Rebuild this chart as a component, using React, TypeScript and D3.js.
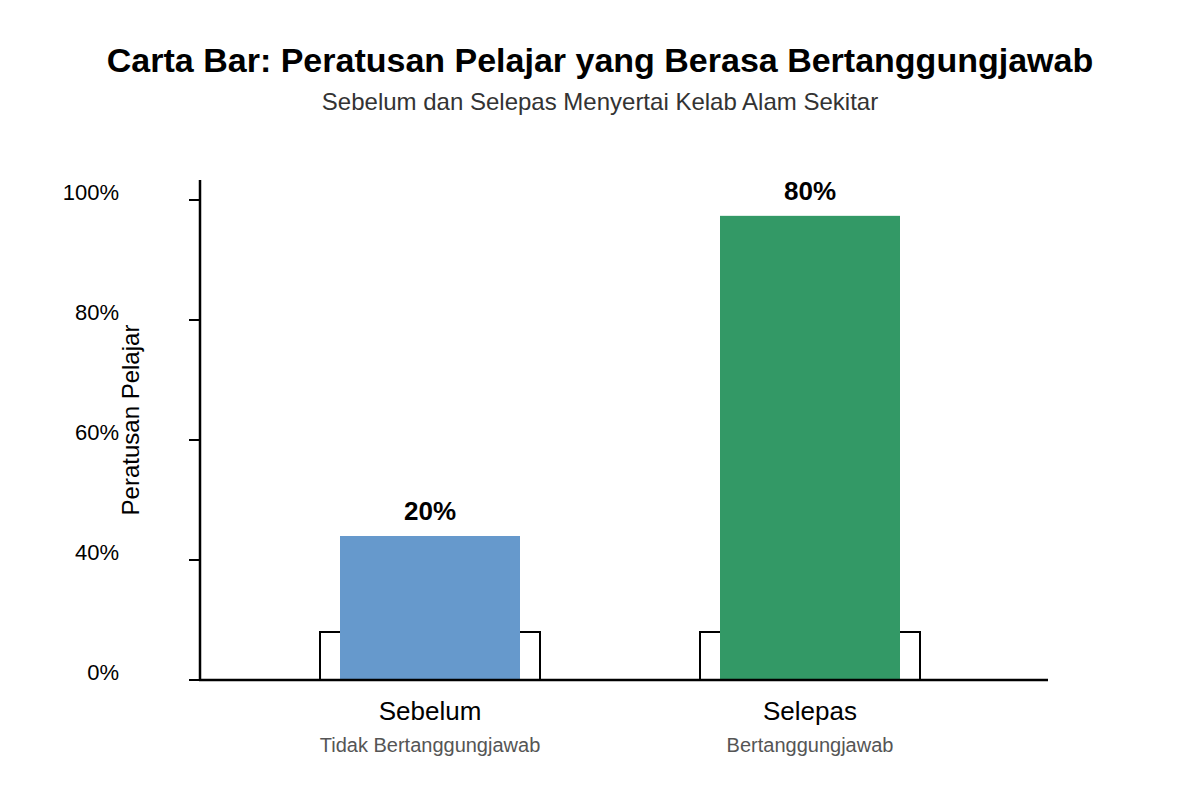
import React, { useEffect, useRef } from "react";
import * as d3 from "d3";

const categories = ["Sebelum", "Selepas"];
const subLabels = ["Tidak Bertanggungjawab", "Bertanggungjawab"];
const barValues = [30, 96.7];
const barLabels = ["20%", "80%"];
const baseValues = [10, 10];
const barColors = ["#6699CC", "#339966"];
const tickValues = [0, 25, 50, 75, 100];
const tickLabels = ["0%", "40%", "60%", "80%", "100%"];

const WIDTH = 1200;
const HEIGHT = 800;
const FONT = "'Liberation Sans', Arial, sans-serif";

const App: React.FC = () => {
  const svgRef = useRef<SVGSVGElement | null>(null);

  useEffect(() => {
    if (!svgRef.current) return;
    const svg = d3.select(svgRef.current);
    svg.selectAll("*").remove();

    const x = d3.scaleBand<string>().domain(categories).range([240, 1000]);
    const y = d3.scaleLinear().domain([0, 100]).range([680, 200]);
    const barWidth = 180;
    const boxWidth = 220;

    svg
      .append("rect")
      .attr("width", WIDTH)
      .attr("height", HEIGHT)
      .attr("fill", "#fff");

    // titles
    svg
      .append("text")
      .attr("x", WIDTH / 2)
      .attr("y", 72)
      .attr("text-anchor", "middle")
      .style("font-family", FONT)
      .style("font-size", "34px")
      .style("font-weight", "bold")
      .style("fill", "#000")
      .text("Carta Bar: Peratusan Pelajar yang Berasa Bertanggungjawab");

    svg
      .append("text")
      .attr("x", WIDTH / 2)
      .attr("y", 110)
      .attr("text-anchor", "middle")
      .style("font-family", FONT)
      .style("font-size", "24px")
      .style("fill", "#333")
      .text("Sebelum dan Selepas Menyertai Kelab Alam Sekitar");

    const g = svg.append("g");

    // white base boxes
    g.selectAll(".base")
      .data(categories)
      .enter()
      .append("rect")
      .attr("class", "base")
      .attr("x", (d) => (x(d) ?? 0) + x.bandwidth() / 2 - boxWidth / 2)
      .attr("y", (d, i) => y(baseValues[i]))
      .attr("width", boxWidth)
      .attr("height", (d, i) => y(0) - y(baseValues[i]))
      .attr("fill", "#fff")
      .attr("stroke", "#000")
      .attr("stroke-width", 2);

    g.selectAll(".bar")
      .data(categories)
      .enter()
      .append("rect")
      .attr("class", "bar")
      .attr("x", (d) => (x(d) ?? 0) + x.bandwidth() / 2 - barWidth / 2)
      .attr("y", (d, i) => y(barValues[i]))
      .attr("width", barWidth)
      .attr("height", (d, i) => y(0) - y(barValues[i]))
      .attr("fill", (d, i) => barColors[i]);

    g.selectAll(".value")
      .data(categories)
      .enter()
      .append("text")
      .attr("class", "value")
      .attr("x", (d) => (x(d) ?? 0) + x.bandwidth() / 2)
      .attr("y", (d, i) => y(barValues[i]) - 16)
      .attr("text-anchor", "middle")
      .style("font-family", FONT)
      .style("font-size", "26px")
      .style("font-weight", "bold")
      .style("fill", "#000")
      .text((d, i) => barLabels[i]);

    // axes
    g.append("line")
      .attr("x1", 200)
      .attr("x2", 200)
      .attr("y1", 180)
      .attr("y2", y(0) + 1)
      .attr("stroke", "#000")
      .attr("stroke-width", 2.5);

    g.append("line")
      .attr("x1", 199)
      .attr("x2", 1048)
      .attr("y1", y(0))
      .attr("y2", y(0))
      .attr("stroke", "#000")
      .attr("stroke-width", 2.5);

    g.selectAll(".tick")
      .data(tickValues)
      .enter()
      .append("line")
      .attr("class", "tick")
      .attr("x1", 189)
      .attr("x2", 200)
      .attr("y1", (d) => y(d))
      .attr("y2", (d) => y(d))
      .attr("stroke", "#000")
      .attr("stroke-width", 2);

    g.selectAll(".tick-label")
      .data(tickValues)
      .enter()
      .append("text")
      .attr("class", "tick-label")
      .attr("x", 119)
      .attr("y", (d) => y(d))
      .attr("text-anchor", "end")
      .style("font-family", FONT)
      .style("font-size", "22px")
      .style("fill", "#000")
      .text((d, i) => tickLabels[i]);

    g.append("text")
      .attr("transform", "translate(133,420) rotate(-90)")
      .attr("text-anchor", "middle")
      .attr("dominant-baseline", "middle")
      .style("font-family", FONT)
      .style("font-size", "24px")
      .style("fill", "#000")
      .text("Peratusan Pelajar");

    // category labels
    g.selectAll(".cat")
      .data(categories)
      .enter()
      .append("text")
      .attr("class", "cat")
      .attr("x", (d) => (x(d) ?? 0) + x.bandwidth() / 2)
      .attr("y", 720)
      .attr("text-anchor", "middle")
      .style("font-family", FONT)
      .style("font-size", "26px")
      .style("fill", "#000")
      .text((d) => d);

    g.selectAll(".sub")
      .data(categories)
      .enter()
      .append("text")
      .attr("class", "sub")
      .attr("x", (d) => (x(d) ?? 0) + x.bandwidth() / 2)
      .attr("y", 752)
      .attr("text-anchor", "middle")
      .style("font-family", FONT)
      .style("font-size", "20px")
      .style("fill", "#555")
      .text((d, i) => subLabels[i]);
  }, []);

  return (
    <div style={{ position: "absolute", left: 0, top: 0 }}>
      <svg ref={svgRef} width={WIDTH} height={HEIGHT} style={{ display: "block" }} />
    </div>
  );
};

export default App;
